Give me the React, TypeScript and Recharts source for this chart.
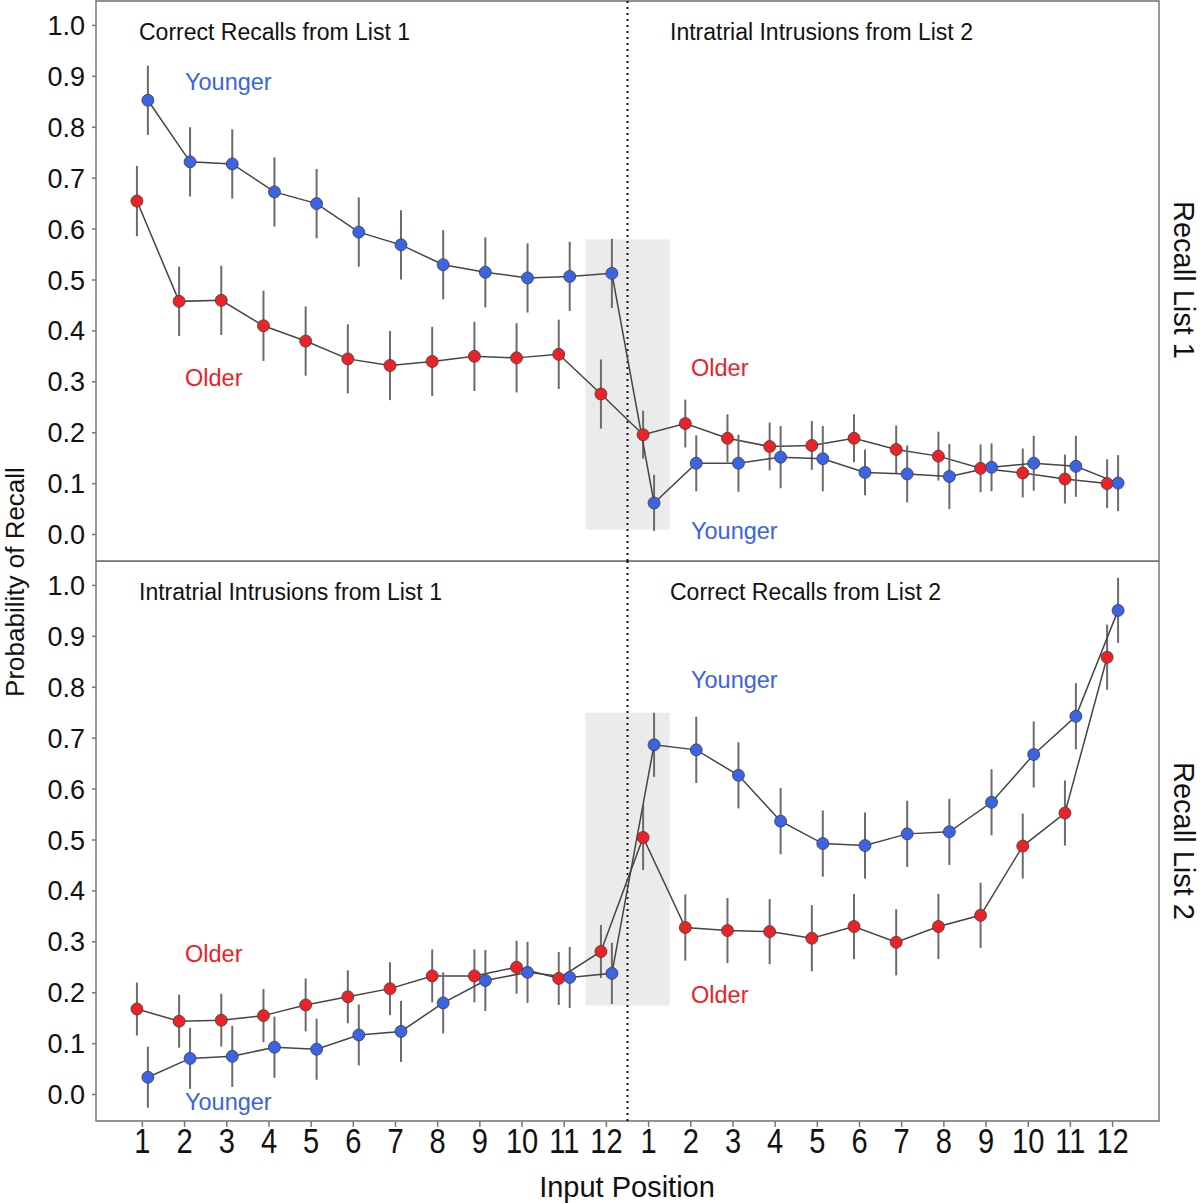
import React from 'react';
import {
    LineChart, Line, XAxis, YAxis, ErrorBar, ReferenceArea, ReferenceLine,
} from 'recharts';

const FONT = '"Liberation Sans", Arial, Helvetica, sans-serif';
const BLUE = '#3b63e2';
const RED = '#ec2229';

// 24 input positions: list 1 (1-12) then list 2 (1-12)
const positions = [1, 2, 3, 4, 5, 6, 7, 8, 9, 10, 11, 12, 13, 14, 15, 16, 17, 18, 19, 20, 21, 22, 23, 24];
const tickLabels = ['1', '2', '3', '4', '5', '6', '7', '8', '9', '10', '11', '12',
    '1', '2', '3', '4', '5', '6', '7', '8', '9', '10', '11', '12'];
const yTicks = [0, 0.1, 0.2, 0.3, 0.4, 0.5, 0.6, 0.7, 0.8, 0.9, 1.0];

// Recall List 1 panel
const list1Older = [0.655, 0.458, 0.460, 0.410, 0.380, 0.345, 0.332, 0.340, 0.350, 0.347, 0.354, 0.276,
    0.196, 0.218, 0.189, 0.173, 0.175, 0.189, 0.167, 0.154, 0.130, 0.121, 0.109, 0.100];
const list1OlderErr = [0.069, 0.068, 0.068, 0.069, 0.068, 0.068, 0.068, 0.068, 0.068, 0.068, 0.068, 0.068,
    0.047, 0.047, 0.047, 0.047, 0.048, 0.047, 0.047, 0.048, 0.047, 0.048, 0.048, 0.048];
const list1Younger = [0.853, 0.732, 0.728, 0.673, 0.650, 0.594, 0.569, 0.530, 0.515, 0.504, 0.507, 0.513,
    0.062, 0.140, 0.140, 0.152, 0.149, 0.122, 0.119, 0.114, 0.132, 0.140, 0.134, 0.101];
const list1YoungerErr = [0.068, 0.068, 0.068, 0.068, 0.068, 0.068, 0.068, 0.068, 0.069, 0.068, 0.068, 0.068,
    0.055, 0.055, 0.056, 0.061, 0.064, 0.045, 0.056, 0.064, 0.047, 0.054, 0.060, 0.055];

// Recall List 2 panel
const list2Older = [0.168, 0.144, 0.146, 0.155, 0.176, 0.192, 0.208, 0.233, 0.233, 0.250, 0.228, 0.281,
    0.505, 0.328, 0.322, 0.320, 0.307, 0.330, 0.299, 0.330, 0.352, 0.488, 0.553, 0.859];
const list2OlderErr = [0.052, 0.052, 0.052, 0.052, 0.052, 0.052, 0.052, 0.052, 0.052, 0.052, 0.052, 0.052,
    0.064, 0.065, 0.064, 0.064, 0.065, 0.064, 0.065, 0.064, 0.064, 0.064, 0.064, 0.064];
const list2Younger = [0.034, 0.071, 0.075, 0.093, 0.089, 0.117, 0.124, 0.180, 0.224, 0.240, 0.230, 0.238,
    0.687, 0.677, 0.627, 0.537, 0.493, 0.489, 0.512, 0.516, 0.574, 0.668, 0.743, 0.951];
const list2YoungerErr = [0.060, 0.060, 0.060, 0.060, 0.060, 0.060, 0.060, 0.060, 0.060, 0.060, 0.060, 0.060,
    0.063, 0.065, 0.065, 0.065, 0.065, 0.065, 0.065, 0.065, 0.065, 0.065, 0.065, 0.064];

const X_DOMAIN: [number, number] = [-0.1, 25.1];
const Y_DOMAIN: [number, number] = [-0.052, 1.048];
const DODGE = 0.13;

function toPoints(values: number[], errs: number[], shift: number) {
    return positions.map((p, i) => ({ x: p + shift, y: values[i], err: errs[i] }));
}

function XTick(props: any) {
    const { x, y, payload } = props;
    return (
        <text transform={`translate(${x},${y + 24}) scale(0.83,1)`} textAnchor="middle"
            fontSize={35} fill="#111" fontFamily={FONT}>
            {tickLabels[payload.value - 1]}
        </text>
    );
}

interface PanelProps {
    older: number[]; olderErr: number[];
    younger: number[]; youngerErr: number[];
    shade: [number, number];
    showX: boolean;
    height: number;
    margin: { top: number; right: number; bottom: number; left: number };
}

function Panel({ older, olderErr, younger, youngerErr, shade, showX, height, margin }: PanelProps) {
    const dotStyle = (fill: string) => ({ r: 6, fill, stroke: '#3d3d3d', strokeWidth: 0.8 });
    return (
        <LineChart width={1200} height={height} margin={margin}>
            <ReferenceArea x1={11.5} x2={13.5} y1={shade[0]} y2={shade[1]}
                fill="#ebebeb" fillOpacity={1} stroke="none" ifOverflow="visible" />
            <ReferenceLine x={12.5} stroke="#111" strokeWidth={2} strokeDasharray="2 4" ifOverflow="visible" />
            <XAxis type="number" dataKey="x" domain={X_DOMAIN} ticks={positions} allowDataOverflow
                hide={!showX} height={82} axisLine={false} tickLine={{ stroke: '#777', strokeWidth: 1.5 }}
                tickSize={6} interval={0} tick={<XTick />} />
            <YAxis type="number" domain={Y_DOMAIN} ticks={yTicks} allowDataOverflow width={96}
                axisLine={false} tickLine={{ stroke: '#777', strokeWidth: 1.5 }} tickSize={4} tickMargin={7}
                tickFormatter={(v: number) => v.toFixed(1)}
                tick={{ fontSize: 27, fill: '#111', fontFamily: FONT }} />
            <Line data={toPoints(older, olderErr, -DODGE)} dataKey="y" stroke="#454545" strokeWidth={1.5}
                dot={dotStyle(RED)} activeDot={false} isAnimationActive={false}>
                <ErrorBar dataKey="err" direction="y" width={0} stroke="#6b6b6b" strokeWidth={2}
                    isAnimationActive={false} />
            </Line>
            <Line data={toPoints(younger, youngerErr, DODGE)} dataKey="y" stroke="#454545" strokeWidth={1.5}
                dot={dotStyle(BLUE)} activeDot={false} isAnimationActive={false}>
                <ErrorBar dataKey="err" direction="y" width={0} stroke="#6b6b6b" strokeWidth={2}
                    isAnimationActive={false} />
            </Line>
            <ReferenceArea x1={X_DOMAIN[0]} x2={X_DOMAIN[1]} y1={Y_DOMAIN[0]} y2={Y_DOMAIN[1]}
                fill="none" stroke="#6f6f6f" strokeWidth={1.4} ifOverflow="visible" />
        </LineChart>
    );
}

export default function App() {
    const txt = { fontFamily: FONT, fill: '#111' };
    return (
        <div style={{ position: 'absolute', left: 0, top: 0, width: 1200, height: 1203, background: '#fff', overflow: 'hidden' }}>
            <div style={{ position: 'absolute', left: 0, top: 0 }}>
                <Panel older={list1Older} olderErr={list1OlderErr} younger={list1Younger} youngerErr={list1YoungerErr}
                    shade={[0.01, 0.58]} showX={false} height={562}
                    margin={{ top: 1, right: 41, bottom: 1, left: 0 }} />
            </div>
            <div style={{ position: 'absolute', left: 0, top: 561 }}>
                <Panel older={list2Older} olderErr={list2OlderErr} younger={list2Younger} youngerErr={list2YoungerErr}
                    shade={[0.175, 0.75]} showX={true} height={642}
                    margin={{ top: 0, right: 41, bottom: 0, left: 0 }} />
            </div>
            <svg width={1200} height={1203} style={{ position: 'absolute', left: 0, top: 0, pointerEvents: 'none' }}>
                <g fontSize={23}>
                    <text x={139} y={40} {...txt}>Correct Recalls from List 1</text>
                    <text x={670} y={40} {...txt}>Intratrial Intrusions from List 2</text>
                    <text x={139} y={600} {...txt}>Intratrial Intrusions from List 1</text>
                    <text x={670} y={600} {...txt}>Correct Recalls from List 2</text>
                </g>
                <g fontSize={23.5} fontFamily={FONT}>
                    <text x={185} y={90} fill={BLUE}>Younger</text>
                    <text x={185} y={386} fill={RED}>Older</text>
                    <text x={691} y={376} fill={RED}>Older</text>
                    <text x={691} y={539} fill={BLUE}>Younger</text>
                    <text x={185} y={962} fill={RED}>Older</text>
                    <text x={185} y={1110} fill={BLUE}>Younger</text>
                    <text x={691} y={688} fill={BLUE}>Younger</text>
                    <text x={691} y={1003} fill={RED}>Older</text>
                </g>
                <text transform="translate(24,582) rotate(-90)" textAnchor="middle" fontSize={26} {...txt}>Probability of Recall</text>
                <text transform="translate(1174,280) rotate(90)" textAnchor="middle" fontSize={29} {...txt}>Recall List 1</text>
                <text transform="translate(1174,841) rotate(90)" textAnchor="middle" fontSize={29} {...txt}>Recall List 2</text>
                <text x={627} y={1197} textAnchor="middle" fontSize={29} {...txt}>Input Position</text>
            </svg>
        </div>
    );
}
